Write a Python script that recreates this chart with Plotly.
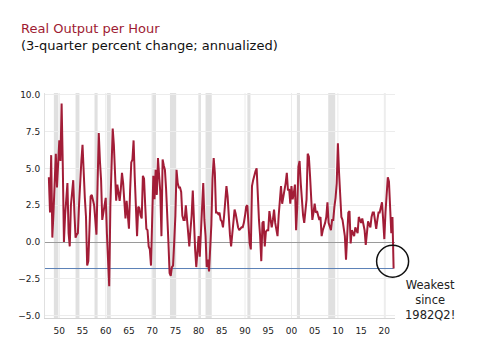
import plotly.graph_objects as go

# ---------------- data (3-quarter % change, annualized), quarterly 1947Q4 .. 2022Q1
first_year, first_quarter = 1947, 4
prod_1940s = [4.4,
              2.0, 5.9, 0.3, 2.0,
              3.8, 6.0, 3.7, 5.5]
prod_1950s = [6.9, 5.5, 9.4, 5.2,
              0.0, 1.8, 3.1, 4.0,
              0.6, -0.3, 2.5, 3.5,
              4.2, 2.0, 0.3, 0.5,
              0.6, 2.5, 4.5, 5.5,
              6.6, 4.5, 3.0, 1.7,
              -1.6, -1.3, 1.0, 3.1,
              3.2, 2.8, 2.5, 1.5,
              0.5, 4.0, 7.4, 5.5,
              4.2, 1.5, 2.0, 2.6]
prod_1960s = [3.0, 0.6, -1.0, -3.0,
              2.5, 5.5, 7.7, 6.6,
              4.5, 2.8, 3.9, 3.3,
              2.8, 3.6, 4.7, 4.0,
              2.8, 1.6, 2.8, 1.8,
              0.9, 3.5, 5.4, 5.6,
              6.9, 4.4, 2.0, 0.4,
              2.4, 2.3, 1.8, 1.6,
              4.5, 4.3, 2.5, 0.9,
              0.8, -0.3, -0.5, -1.6]
prod_1970s = [1.5, 4.5, 2.9, 4.9,
              3.2, 5.7, 4.5, 3.4,
              0.4, 5.6, 5.2, 4.9,
              3.6, 1.1, 0.0, -2.1,
              -2.3, -1.7, -1.6, 0.0,
              1.8, 4.9, 4.0, 3.7,
              3.7, 3.4, 1.8, 1.5,
              1.5, 2.5, 1.5, 0.4,
              -0.3, 0.8, 1.8, 3.5,
              0.8, -0.5, -1.7, -0.3]
prod_1980s = [0.4, -1.0, 0.5, 1.8,
              4.0, 1.5, 0.4, -1.7,
              -1.2, -2.0, -0.5, 1.2,
              4.3, 5.7, 4.7, 2.0,
              2.0, 1.9, 2.0, 1.5,
              1.4, 1.0, 1.8, 2.6,
              3.8, 3.1, 1.3, 0.5,
              -0.3, 0.4, 1.2, 2.2,
              1.9, 1.3, 1.0, 0.8,
              0.9, 1.0, 1.0, 1.3]
prod_1990s = [1.8, 2.4, 2.5, 1.0,
              -0.1, -0.5, 3.8, 4.2,
              4.6, 4.8, 5.0, 2.9,
              1.5, 0.4, -1.3, 1.3,
              1.4, -0.3, 0.7, 0.8,
              0.8, 2.1, 1.5, 1.0,
              1.5, 2.2, 1.3, 0.8,
              0.4, 1.8, 3.1, 3.8,
              2.6, 3.0, 3.5, 4.0,
              4.7, 3.5, 3.6, 2.6]
prod_2000s = [3.8, 2.9, 3.3, 3.9,
              0.8, 2.4, 5.1, 5.5,
              4.0, 2.4, 1.8, 1.3,
              2.0, 2.9, 6.0, 5.8,
              4.5, 3.1, 1.5, 2.0,
              2.6, 2.0, 2.1, 1.8,
              1.5, 1.7, 0.4, 0.8,
              1.0, 1.3, 1.7, 2.7,
              1.3, 1.0, 0.8, 1.5,
              1.5, 2.4, 3.0, 4.0]
prod_2010s = [6.7, 4.7, 3.0, 1.7,
              1.5, 1.0, 0.4, -1.2,
              0.6, 2.0, 2.1, -0.1,
              0.8, 0.6, 0.4, 1.0,
              0.8, 0.6, 1.7, 1.5,
              1.3, 1.6, 1.2, 0.8,
              -0.2, 0.8, 1.4, 1.2,
              1.0, 1.7, 2.0, 2.0,
              1.4, 0.9, 1.5, 2.0,
              2.0, 2.5, 2.7, 1.5]
prod_2020s = [0.2, 2.0, 3.5, 4.4,
              4.1, 2.0, 0.6, 1.7,
              -1.8]

# NBER recessions (decimal years)
rec_start = [1948.83, 1953.50, 1957.58, 1960.25, 1969.92, 1973.83,
             1980.00, 1981.50, 1990.50, 2001.17, 2007.92, 2020.08]
rec_end = [1949.79, 1954.33, 1958.25, 1961.08, 1970.83, 1975.17,
           1980.50, 1982.83, 1991.17, 2001.83, 2009.42, 2020.25]

tick_years = [1950, 1955, 1960, 1965, 1970, 1975, 1980, 1985,
              1990, 1995, 2000, 2005, 2010, 2015, 2020]
tick_labels = ["50", "55", "60", "65", "70", "75", "80", "85",
               "90", "95", "00", "05", "10", "15", "20"]
decade_lines = [1950, 1960, 1970, 1980, 1990, 2000, 2010, 2020]
y_ticks = [-5.0, -2.5, 0.0, 2.5, 5.0, 7.5, 10.0]

values = (prod_1940s + prod_1950s + prod_1960s + prod_1970s + prod_1980s
          + prod_1990s + prod_2000s + prod_2010s + prod_2020s)
times = []
yr, q = first_year, first_quarter
for _ in values:
    times.append(yr + (q - 1) / 4)
    q += 1
    if q > 4:
        q, yr = 1, yr + 1

# ---------------- layout geometry
W, H = 478, 348
ML, MR, MT, MB = 45, 83, 93, 30
PW, PH = W - ML - MR, H - MT - MB
x_range = [1946.92, 2022.3]
y_range = [-5.16, 10.12]

def px_to_paper_x(px):
    return (px - ML) / PW

def px_to_paper_y(py):
    return (H - MB - py) / PH

RED = "#a21d37"
FONT = "DejaVu Sans"

fig = go.Figure()
fig.add_trace(go.Scatter(x=times, y=values, mode="lines",
                         line=dict(color=RED, width=2), hoverinfo="skip",
                         showlegend=False))

shapes = []
for s, e in zip(rec_start, rec_end):
    shapes.append(dict(type="rect", xref="x", yref="paper", x0=s, x1=e, y0=0, y1=1,
                       fillcolor="#e0e0e0", line=dict(width=0), layer="below"))
for d in decade_lines:
    shapes.append(dict(type="line", xref="x", yref="paper", x0=d, x1=d, y0=0, y1=1,
                       line=dict(color="#ececec", width=1), layer="below"))
# horizontal reference at latest value
shapes.append(dict(type="line", xref="x", yref="y", x0=x_range[0], x1=times[-1],
                   y0=values[-1], y1=values[-1],
                   line=dict(color="#5b80b6", width=1), layer="between"))
# circle around latest value
ax = (times[-1] - x_range[0]) / (x_range[1] - x_range[0])
ay = (values[-1] - y_range[0]) / (y_range[1] - y_range[0])
shapes.append(dict(type="circle", xref="paper", yref="paper",
                   xsizemode="pixel", ysizemode="pixel", xanchor=ax, yanchor=ay,
                   x0=-17, x1=15, y0=-8.7, y1=23.3,
                   line=dict(color="#111111", width=1.5)))

annotations = [
    dict(text="Real Output per Hour", xref="paper", yref="paper",
         x=px_to_paper_x(19), y=px_to_paper_y(28.5), xanchor="left", yanchor="middle",
         showarrow=False, font=dict(family=FONT, size=13, color="#9e1b32")),
    dict(text="(3-quarter percent change; annualized)", xref="paper", yref="paper",
         x=px_to_paper_x(19), y=px_to_paper_y(45.5), xanchor="left", yanchor="middle",
         showarrow=False, font=dict(family=FONT, size=13, color="#111111")),
    dict(text="Weakest<br>since<br>1982Q2!", xref="paper", yref="paper",
         x=px_to_paper_x(430), y=px_to_paper_y(300), xanchor="center", yanchor="middle",
         showarrow=False, align="center",
         font=dict(family=FONT, size=11.5, color="#222222")),
]

fig.update_layout(
    width=W, height=H, autosize=False,
    margin=dict(l=ML, r=MR, t=MT, b=MB, pad=0),
    paper_bgcolor="white", plot_bgcolor="white",
    shapes=shapes, annotations=annotations, showlegend=False,
    xaxis=dict(range=x_range, tickmode="array", tickvals=tick_years, ticktext=tick_labels,
               showgrid=False, zeroline=False, showline=True, linecolor="#d4d4d4",
               linewidth=1, ticks="outside", ticklen=4, tickcolor="rgba(0,0,0,0)",
               tickfont=dict(family=FONT, size=9, color="#222222")),
    yaxis=dict(range=y_range, tickmode="array", tickvals=y_ticks, tickformat=".1f",
               showgrid=True, gridcolor="#ececec", gridwidth=1,
               zeroline=True, zerolinecolor="#9a9a9a", zerolinewidth=1,
               showline=True, linecolor="#e0e0e0", linewidth=1,
               ticks="outside", ticklen=2, tickcolor="rgba(0,0,0,0)",
               tickfont=dict(family=FONT, size=9, color="#222222")),
)

fig.write_html("out.html")
